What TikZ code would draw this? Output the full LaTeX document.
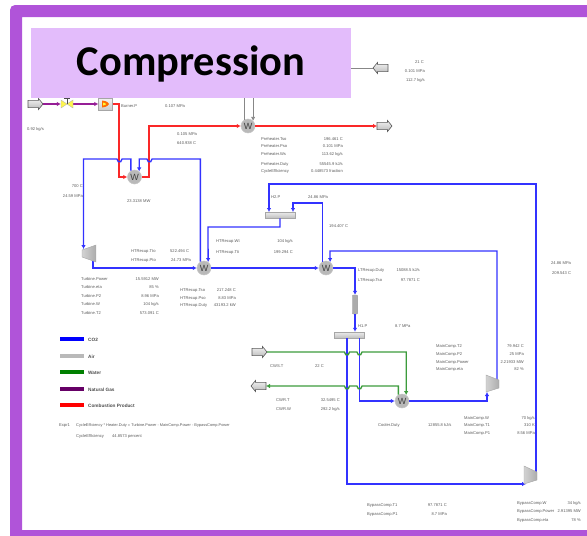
\documentclass[tikz,border=0pt]{standalone}
\usepackage{fontspec}
\setmainfont{Liberation Sans}
\newfontfamily\titlefont{Carlito}
\usetikzlibrary{arrows.meta}
\definecolor{cFrame}{RGB}{176, 84, 217}
\definecolor{cBanner}{RGB}{227, 188, 251}
\definecolor{cCarbon}{RGB}{50, 50, 255}
\definecolor{cFlue}{RGB}{250, 40, 40}
\definecolor{cWater}{RGB}{60, 155, 60}
\definecolor{cGas}{RGB}{150, 30, 150}
\definecolor{cAirLine}{RGB}{135, 135, 135}
\definecolor{cText}{RGB}{90, 90, 90}
\tikzset{
  stream/.style={line width=1.3pt, line join=miter},
  tip/.style={-{Latex[length=4pt,width=4.5pt]}},
  co2/.style={stream, cCarbon},
  flue/.style={stream, cFlue},
  water/.style={stream, cWater},
  gasline/.style={stream, cGas},
  airline/.style={line width=0.9pt, cAirLine},
  hx/.style={circle, draw=gray!45, line width=0.5pt, fill=gray!55, minimum size=14pt, inner sep=0pt,
    text=black!75, font=\fontsize{9}{9}\selectfont},
  streamblk/.pic={
    \shade[draw=gray!70!black, line width=0.6pt, top color=gray!10, bottom color=gray!55]
      (-7.5,-3.6) -- (3,-3.6) -- (3,-5.5) -- (7.5,0) -- (3,5.5) -- (3,3.6) -- (-7.5,3.6) -- cycle;
    \coordinate (-tip) at (7.5,0);
    \coordinate (-tail) at (-7.5,0);
  },
  splitter/.style={rectangle, draw=gray!70, line width=0.5pt, top color=gray!15, bottom color=gray!50,
    minimum width=30pt, minimum height=6pt, inner sep=0pt},
  comp/.style={draw=gray!70, line width=0.4pt, left color=gray!35, right color=gray!65},
  lbl/.style={font=\fontsize{4.1}{5}\selectfont, text=cText, inner sep=0pt, anchor=mid west},
  val/.style={lbl, anchor=mid east},
  legendtxt/.style={font=\bfseries\fontsize{4.7}{5}\selectfont, text=black!70, inner sep=0pt, anchor=mid west}
}
\def\dipL{-- ++(-1.2,2.6) -- ++(-2.6,0) -- ++(-1.2,-2.6)}
\def\dipR{-- ++(1.2,2.6) -- ++(2.6,0) -- ++(1.2,-2.6)}
\begin{document}
\begin{tikzpicture}[x=1pt, y=-1pt]
  \useasboundingbox (0,0) rectangle (587,536);

  % ---- slide frame ----
  \fill[cFrame] (10,536) [rounded corners=5pt] -- (10,5) [sharp corners] -- (587,5) -- (587,17)
    -- (22,17) -- (22,530) -- (587,530) -- (587,536) -- cycle;

  % ---- equipment ----
  \node[hx] (hxPre) at (248,126) {W};
  \node[hx] (hxHeat) at (134.5,177) {W};
  \node[hx] (hxHigh) at (204,268) {W};
  \node[hx] (hxLow) at (326,268) {W};
  \node[hx] (hxCool) at (402,401) {W};
  \node[splitter] (splitHi) at (280,215) {};
  \node[splitter] (splitLo) at (349,335) {};
  \node[draw=gray!70, fill=gray!65, rounded corners=1pt, minimum width=5.5pt, minimum height=19pt, inner sep=0pt] (pipeDrop) at (355,304.5) {};
  \pic (blkGas) at (35.5,104) {streamblk};
  \pic[rotate=180] (blkAir) at (380.5,68) {streamblk};
  \pic (blkFlue) at (384.5,126) {streamblk};
  \pic (blkCws) at (259.5,352) {streamblk};
  \pic[rotate=180] (blkCwr) at (258.5,386) {streamblk};
  \node[minimum width=12pt, minimum height=8pt, inner sep=0pt] (valve) at (67,104) {};
  \node[draw=gray!70, top color=gray!10, bottom color=gray!40, minimum width=14pt, minimum height=12pt, inner sep=0pt] (burner) at (105.5,104) {};
  \coordinate (turbIn) at (83.5,249);
  \coordinate (turbOut) at (93,261);
  \coordinate (mainIn) at (487,392);
  \coordinate (mainOut) at (497,381);
  \coordinate (bypIn) at (526,484);
  \coordinate (bypOut) at (536,473);
  \coordinate (hiInA) at (269,212);
  \coordinate (hiInB) at (293,212);
  \coordinate (loOutA) at (347,338);
  \coordinate (loOutB) at (359.5,338);

  % ---- air (runs on behind the banner) ----
  \draw[airline, tip] (blkAir-tip) -| (hxPre.45);
  \draw[airline] (hxPre.120) -- ++(0,-40);

  % ---- natural gas and combustion product ----
  \draw[gasline, tip] (blkGas-tip) -- (valve.west);
  \draw[gasline, tip] (valve.east) -- (burner.west);
  \draw[flue, tip] (burner.east) -| (119,177) -- (hxHeat.west);
  \draw[flue, tip] (hxHeat.east) -| (149,126) -- (hxPre.west);
  \draw[flue, tip] (hxPre.east) -- (blkFlue-tail);

  % ---- co2 loop ----
  \draw[co2, tip] (hxHigh.120) |- (152,159) \dipL -| (hxHeat.50);
  \draw[co2, tip] (hxHeat.120) |- (122,159) \dipL -| (turbIn);
  \draw[co2, tip] (turbOut) |- (hxHigh.west);
  \draw[co2, tip] (hxHigh.east) -- (hxLow.west);
  \draw[co2, tip] (splitHi.south) |- (208,227) -- (hxHigh.55);
  \draw[co2, tip] (bypOut) |- (269,184) -- (hiInA);
  \draw[co2, tip] (hxLow.120) |- (293,203) -- (hiInB);
  \draw[co2, tip] (mainOut) |- (330,251) -- (hxLow.55);
  \draw[co2, tip] (hxLow.east) -| (pipeDrop.north);
  \draw[co2, tip] (pipeDrop.south) -- (pipeDrop.south |- splitLo.north);
  \draw[co2, tip] (loOutB) |- (hxCool.west);
  \draw[co2, tip] (hxCool.east) -| (mainIn);
  \draw[co2, tip] (loOutA) |- (bypIn);

  % ---- cooling water ----
  \draw[water, tip] (blkCws-tip) -- (344.5,352) \dipR -- (357,352) \dipR -| (hxCool.55);
  \draw[water, tip] (hxCool.120) |- (362,386) \dipL -- (349.5,386) \dipL -- (blkCwr-tail);

  % ---- compressors and turbine ----
  \shade[comp] (82,250) -- (96,245) -- (96,262) -- (82,257) -- cycle;
  \shade[comp] (486,375) -- (499,380) -- (499,388) -- (486,392) -- cycle;
  \shade[comp] (524,466) -- (537,472) -- (537,480) -- (524,484) -- cycle;

  % ---- valve and burner details ----
  \fill[yellow!70, draw=gray!60, line width=0.3pt] (61,100) -- (73,108) -- (73,100) -- (61,108) -- cycle;
  \draw[black!70, line width=0.7pt] (67,104) -- (67,98.5) (64,98.5) -- (70,98.5);
  \fill[orange!85!red] (102,100.5) .. controls (107,101) and (109,103) .. (109,104)
    .. controls (109,105) and (107,107) .. (102,107.5) -- cycle;
  \fill[yellow!80] (103,102.5) .. controls (105,103) and (106,103.5) .. (106,104)
    .. controls (106,104.5) and (105,105) .. (103,105.5) -- cycle;

  % ---- banner ----
  \fill[cBanner] (31,28) rectangle (351,98);
  \node[inner sep=0pt, font=\titlefont\bfseries\fontsize{42.4}{42.4}\selectfont, text=black] (titleTxt) at (191,64) {Compression};

  % ---- names and left aligned values ----
  \foreach \lx/\ly/\lbl [count=\n] in {
    121/105/Burner.P, 165/105/{0.107 MPa}, 27/128/{0.92 kg/s},
    177/133/{0.105 MPa}, 177/142/{640.938 C},
    261/137.5/Preheater.Tso, 261/145/Preheater.Pso, 261/153/Preheater.Ws,
    261/163/Preheater.Duty, 261/170/CycleEfficiency,
    127/199.5/{23.3138 MW}, 271/196/H2.P, 308/196/{24.86 MPa}, 329/225/{194.407 C},
    216/240/HTRecup.Wt, 216/250.5/HTRecup.Tti, 131/250/HTRecup.Tto, 131/258.5/HTRecup.Pto,
    170/250/{522.494 C}, 171/258.5/{24.73 MPa},
    81/278/Turbine.Power, 81/286/Turbine.eta, 81/295/Turbine.P2, 81/303/Turbine.W, 81/312/Turbine.T2,
    180/289/HTRecup.Tso, 180/297/HTRecup.Pso, 180/304/HTRecup.Duty,
    358/268.5/LTRecup.Duty, 358/278.5/LTRecup.Tso,
    358/325/H1.P, 395/325/{8.7 MPa}, 551/262/{24.86 MPa}, 552/272/{209.543 C},
    436/344.5/MainComp.T2, 436/353/MainComp.P2, 436/361/MainComp.Power, 436/368/MainComp.eta,
    270/365/CWS.T, 315/365/{22 C}, 276/399/CWR.T, 276/407.5/CWR.W,
    378/424/Cooler.Duty, 428/424/{12855.8 kJ/s},
    464/417/MainComp.W, 464/424/MainComp.T1, 464/432/MainComp.P1,
    367/503.5/BypassComp.T1, 367/513/BypassComp.P1,
    517/501.5/BypassComp.W, 517/510/BypassComp.Power, 517/519/BypassComp.eta,
    59/424/Expr1, 76/435/CycleEfficiency, 112/435/{44.8573 percent}}{
    \node[lbl] (txtL\n) at (\lx,\ly) {\lbl};
  }
  \node[lbl, font=\fontsize{3.9}{5}\selectfont] (exprTxt) at (76,424)
    {CycleEfficiency * Heater.Duty = Turbine.Power - MainComp.Power - BypassComp.Power};

  % ---- right aligned values ----
  \foreach \lx/\ly/\lbl [count=\n] in {
    343/137.5/{196.461 C}, 343/145/{0.101 MPa}, 343/153/{113.62 kg/s},
    343/163/{55545.9 kJ/s}, 343/170/{0.448573 fraction},
    424/61/{21 C}, 425/70/{0.101 MPa}, 425/79/{112.7 kg/s},
    83/185/{700 C}, 83/195/{24.59 MPa},
    293/240/{104 kg/s}, 293/251/{199.294 C},
    159/278/{15.5912 MW}, 159/286/{85 \%}, 159/295/{8.96 MPa}, 159/303/{104 kg/s}, 159/312/{573.091 C},
    236/289/{217.248 C}, 236/297/{8.83 MPa}, 236/304/{43193.2 kW},
    420/268.5/{15088.5 kJ/s}, 420/278.5/{97.7871 C},
    524/344.5/{79.942 C}, 524/353/{25 MPa}, 524/361/{2.21933 MW}, 524/368/{82 \%},
    340/399/{32.5495 C}, 340/407.5/{292.2 kg/s},
    535/417/{70 kg/s}, 535/424/{310 K}, 535/432/{8.56 MPa},
    447/503.5/{97.7871 C}, 447/513/{8.7 MPa},
    581/501.5/{34 kg/s}, 581/510/{2.91395 MW}, 581/519/{78 \%}}{
    \node[val] (txtR\n) at (\lx,\ly) {\lbl};
  }

  % ---- legend ----
  \foreach \ly/\col/\lbl [count=\n] in {339/blue/CO2, 355.7/gray!55/Air, 372/green!50!black/Water,
    389/violet!80!black/Natural Gas, 405/red/Combustion Product}{
    \fill[\col] (60,\ly-2.2) rectangle (84,\ly+2.2);
    \node[legendtxt] (legend\n) at (88,\ly) {\lbl};
  }

\end{tikzpicture}
\end{document}
